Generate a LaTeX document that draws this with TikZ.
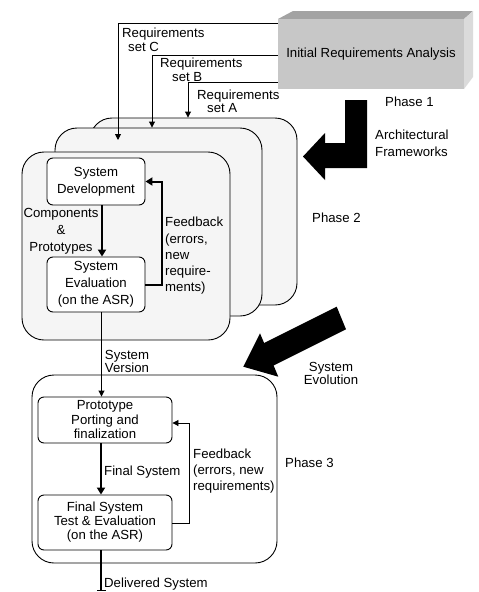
\documentclass[tikz,border=0pt]{standalone}
\usepackage{fontspec}
\setmainfont{Liberation Sans}
\usetikzlibrary{arrows.meta}
\begin{document}
\begin{tikzpicture}[x=1pt,y=-1pt,
  every node/.style={font=\fontsize{13.2}{14}\selectfont, inner sep=0pt},
  lbl/.style={anchor=north west, align=left},
  clbl/.style={anchor=north, align=center},
  ibox/.style={draw, line width=0.9pt, rounded corners=6pt, fill=white, align=center, minimum width=98pt},
  pbox/.style={draw, line width=0.9pt, rounded corners=22pt, fill=black!4},
  tarr/.style={line width=0.9pt, -{Triangle[length=6pt,width=6pt]}},
  karr/.style={line width=2pt, miter limit=10, -{Triangle[length=7pt,width=8pt]}}
]
\useasboundingbox (0,0) rectangle (479,592);

% 3D box
\fill[black!36] (278,19) -- (293,11) -- (473,11) -- (464,19) -- cycle;
\fill[black!14] (464,19) -- (473,11) -- (473,77) -- (464,89) -- cycle;
\node[fill=black!22, minimum width=186pt, minimum height=70pt] (ira) at (371,54) {Initial Requirements Analysis};

% Phase 2 stacked boxes
\node[pbox, minimum width=207pt, minimum height=187pt] (ph2c) at (193.5,211.5) {};
\node[pbox, minimum width=207pt, minimum height=188pt] (ph2b) at (158.5,222) {};
\node[pbox, minimum width=208pt, minimum height=188pt] (ph2a) at (126,246) {};

% Phase 3 box
\node[pbox, fill=white, minimum width=245pt, minimum height=188pt] (ph3) at (154.5,469) {};

% requirement lines
\coordinate (cC) at (118,23); \coordinate (cCe) at (118,140);
\draw[tarr] (ira.west |- cC) -- (cC) -- (cCe);
\coordinate (cB) at (152,55);
\draw[tarr] (ira.west |- cB) -- (cB) -- (cB |- ph2b.north);
\coordinate (cA) at (188,82);
\draw[tarr] (ira.west |- cA) -- (cA) -- (cA |- ph2c.north);

\node[lbl] (lC) at (122,28) {Requirements\\\hspace*{6pt}set C};
\node[lbl, font=\fontsize{13.2}{13.5}\selectfont] (lB) at (160,58) {Requirements\\\hspace*{12pt}set B};
\node[lbl, font=\fontsize{13.2}{13}\selectfont] (lA) at (197,90) {Requirements\\\hspace*{10pt}set A};

% Phase 1 / architectural frameworks
\node[lbl] (p1) at (385,97) {Phase 1};
\node[lbl, font=\fontsize{13.2}{16.7}\selectfont] (arch) at (375,130) {Architectural\\Frameworks};
\fill (345,100) -- (367,100) -- (367,168) -- (325,168) -- (325,180) -- (303,156.5) -- (325,133) -- (325,143) -- (345,143) -- cycle;

% Phase 2 inner
\node[ibox, minimum height=47pt, font=\fontsize{13.2}{17}\selectfont] (sysdev) at (96,181.5) {System\\Development};
\node[ibox, minimum height=55pt, font=\fontsize{13.2}{17}\selectfont] (syseval) at (96,284.5) {System\\Evaluation\\(on the ASR)};
\coordinate (xc) at (102,0);
\draw[karr] (sysdev.south -| xc) -- (syseval.north -| xc);
\coordinate (fb2) at (162,230);
\draw[karr] (syseval.east) -| (fb2) |- (sysdev.east);
\node[clbl, font=\fontsize{13.2}{17}\selectfont] (comp) at (61,208) {Components\\\&\\Prototypes};
\node[lbl, font=\fontsize{13.2}{16.3}\selectfont] (fbl2) at (165,217) {Feedback\\(errors,\\new\\require-\\ments)};
\node[lbl] (p2) at (312,213) {Phase 2};

% System evolution
\node[clbl, font=\fontsize{13.2}{13.5}\selectfont] (evol) at (331,362) {System\\Evolution};
\fill (336.7,306.7) -- (346,329.3) -- (273.6,365.5) -- (278.3,376.7) -- (243.3,366.7) -- (260,333.3) -- (264.1,343) -- cycle;

% Phase 3 inner
\node[ibox, minimum width=134pt, minimum height=46pt, font=\fontsize{13.2}{14.5}\selectfont] (port) at (105,420) {Prototype\\Porting and\\finalization};
\node[ibox, minimum width=134pt, minimum height=55pt, font=\fontsize{13.2}{14}\selectfont] (fin) at (105,522.5) {Final System\\Test \& Evaluation\\(on the ASR)};
\coordinate (xv) at (101.5,0);
\draw[tarr] (syseval.south -| xv) -- (port.north -| xv);
\node[clbl, font=\fontsize{13.2}{13.5}\selectfont] (sver) at (127,350) {System\\Version};
\coordinate (xp) at (101,0);
\draw[karr] (port.south -| xp) -- (fin.north -| xp);
\node[lbl] (fsys) at (104,466) {Final System};
\coordinate (fb3a) at (189,523); \coordinate (fb3b) at (189,423);
\draw[tarr] (fin.east |- fb3a) -- (fb3a) -- (fb3b) -- (port.east |- fb3b);
\node[lbl, font=\fontsize{13.2}{16}\selectfont] (fbl3) at (193,449) {Feedback\\(errors, new\\requirements)};
\node[lbl] (p3) at (285,458) {Phase 3};
\coordinate (dend) at (101,591);
\draw[line width=2pt, -{Bar[width=9pt,line width=1.5pt]}] (fin.south -| dend) -- (dend);
\node[lbl] (deliv) at (104,578) {Delivered System};
\end{tikzpicture}
\end{document}
